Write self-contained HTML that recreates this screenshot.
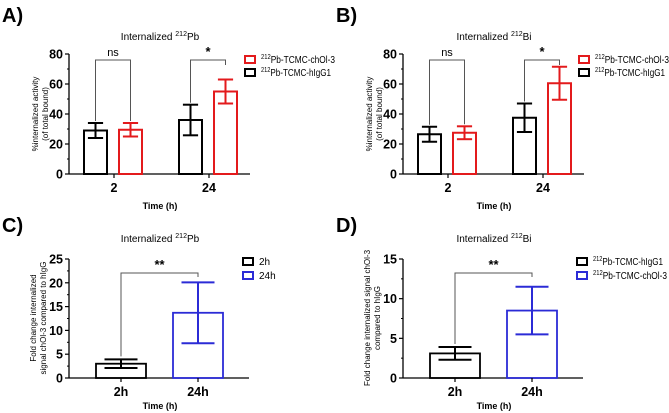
<!DOCTYPE html>
<html><head><meta charset="utf-8"><style>
body{margin:0;background:#fff;font-family:"Liberation Sans",sans-serif}
svg{display:block}
text{font-family:"Liberation Sans",sans-serif}
</style></head><body>
<svg id="c" width="669" height="413" viewBox="0 0 669 413"></svg>
<script>
// Panel A/B data (grouped bars: black = hIgG1, red = chOl-3)
const groupCats = ["2", "24"];
const aBlack = [29, 36], aBlackErr = [5, 10.2];
const aRed = [29.5, 55], aRedErr = [4.5, 8];
const bBlack = [26.5, 37.5], bBlackErr = [5, 9.5];
const bRed = [27.5, 60.5], bRedErr = [4.3, 11];
const abTicks = [0, 20, 40, 60, 80];
// Panel C/D data (single bars)
const foldCats = ["2h", "24h"];
const cVals = [3, 13.7], cErr = [0.9, 6.4];
const dVals = [3.1, 8.5], dErr = [0.8, 3];
const cTicks = [0, 5, 10, 15, 20, 25];
const dTicks = [0, 5, 10, 15];

const svg = document.getElementById('c');
const NS = 'http://www.w3.org/2000/svg';
function mk(tag, attrs, parent) {
  const e = document.createElementNS(NS, tag);
  for (const k in attrs) e.setAttribute(k, attrs[k]);
  (parent || svg).appendChild(e);
  return e;
}
function txt(x, y, s, size, anchor, weight, parent, name) {
  const t = mk('text', {x: x, y: y, 'font-size': size, 'text-anchor': anchor || 'middle', 'font-weight': weight || 'bold', fill: '#000'}, parent);
  t.innerHTML = s;
  
  
  return t;
}
function axes(g, ox, yTop, yBot, xEnd, ticks, maxV) {
  const y = v => yBot - (v / maxV) * (yBot - yTop);
  const ax = mk('line', {x1: ox, y1: yTop, x2: ox, y2: yBot, stroke: '#000', 'stroke-width': 1.3}, g);
  
  
  const xx = mk('line', {x1: ox, y1: yBot, x2: xEnd, y2: yBot, stroke: '#000', 'stroke-width': 1.3}, g);
  
  
  const step = ticks[1] - ticks[0];
  ticks.forEach((v, i) => {
    mk('line', {x1: ox - 4, y1: y(v), x2: ox, y2: y(v), stroke: '#000', 'stroke-width': 1.2}, g);
    if (i < ticks.length - 1) {
      const m = v + step / 2;
      mk('line', {x1: ox - 2, y1: y(m), x2: ox, y2: y(m), stroke: '#000', 'stroke-width': 1}, g);
    }
    txt(ox - 6, y(v) + 4.5, String(v), 12.5, 'end', 'bold', g, 'y-tick-label');
  });
  return y;
}
function bar(g, x0, w, v, e, y, color, name, sw) {
  const r = mk('rect', {x: x0, y: y(v), width: w, height: y(0) - y(v), fill: 'none', stroke: color, 'stroke-width': sw || 2}, g);
  
  
  const cx = x0 + w / 2, cw = w * 0.33;
  mk('line', {x1: cx, y1: y(v + e), x2: cx, y2: y(v - e), stroke: color, 'stroke-width': 2}, g);
  mk('line', {x1: cx - cw, y1: y(v + e), x2: cx + cw, y2: y(v + e), stroke: color, 'stroke-width': 2}, g);
  mk('line', {x1: cx - cw, y1: y(v - e), x2: cx + cw, y2: y(v - e), stroke: color, 'stroke-width': 2}, g);
}
function bracket(g, x1, x2, yb, y1, y2, label, size) {
  mk('path', {d: `M${x1},${y1} L${x1},${yb} L${x2},${yb} L${x2},${y2}`, fill: 'none', stroke: '#555', 'stroke-width': 1}, g);
  txt((x1 + x2) / 2, yb - 4, label, size || 11, 'middle', label === 'ns' ? 'normal' : 'bold', g, 'significance-label');
}
function legendEntry(g, x, y, color, label, len) {
  const r = mk('rect', {x: x, y: y - 7, width: 10, height: 7, fill: 'none', stroke: color, 'stroke-width': 2}, g);
  
  
  const t = txt(x + 16, y, label, 10, 'start', 'normal', g, 'legend-entry');
  if (len) { t.setAttribute('textLength', len); t.setAttribute('lengthAdjust', 'spacingAndGlyphs'); }
}
const SUP = s => '<tspan font-size="7" dy="-4">212</tspan><tspan dy="4">' + s + '</tspan>';
function panelAB(dx, letter, iso, blk, blkE, red, redE) {
  const g = mk('g', {transform: `translate(${dx},0)`});
  
  
  txt(2, 22, letter + ')', 20, 'start', 'bold', g, 'panel-letter');
  txt(160, 40, 'Internalized ' + SUP(iso), 10, 'middle', 'normal', g, 'chart-title');
  const y = axes(g, 69, 54, 174, 250, abTicks, 80);
  const centers = [114, 209];
  groupCats.forEach((c, i) => {
    bar(g, centers[i] - 30, 23, blk[i], blkE[i], y, '#000', 'bar-higg1-' + c);
    bar(g, centers[i] + 5, 23, red[i], redE[i], y, '#e31a1c', 'bar-chol3-' + c);
    mk('line', {x1: centers[i], y1: 174, x2: centers[i], y2: 178, stroke: '#000', 'stroke-width': 1.2}, g);
    txt(centers[i], 192, c, 12.5, 'middle', 'bold', g, 'x-tick-label');
  });
  const cb0 = centers[0] - 18.5, cr0 = centers[0] + 16.5, cb1 = centers[1] - 18.5, cr1 = centers[1] + 16.5;
  bracket(g, cb0, cr0, 60, y(blk[0] + blkE[0]) - 2, y(red[0] + redE[0]) - 2, 'ns');
  bracket(g, cb1, cr1, 60, y(blk[1] + blkE[1]) - 2, 65, '*', 13);
  legendEntry(g, 245, 63, '#e31a1c', SUP('Pb-TCMC-chOl-3'), 74);
  legendEntry(g, 245, 76, '#000', SUP('Pb-TCMC-hIgG1'), 70);
  const yl = mk('g', {transform: 'translate(38,114) rotate(-90)'}, g);
  txt(0, 0, '%internalized activity', 8, 'middle', 'normal', yl, 'y-axis-title');
  txt(0, 10, '(of total bound)', 8, 'middle', 'normal', yl, 'y-axis-title');
  txt(160, 209, 'Time (h)', 9, 'middle', 'bold', g, 'x-axis-title');
}
function panelCD(dx, letter, iso, vals, errs, ticks, maxV, leg, lens, ylab) {
  const g = mk('g', {transform: `translate(${dx},0)`});
  
  
  txt(2, 232, letter + ')', 20, 'start', 'bold', g, 'panel-letter');
  txt(160, 242, 'Internalized ' + SUP(iso), 10, 'middle', 'normal', g, 'chart-title');
  const y = axes(g, 69, 259, 378, 249, ticks, maxV);
  const centers = [121, 198];
  const cols = ['#000', '#2b2bd6'];
  foldCats.forEach((c, i) => {
    bar(g, centers[i] - 25, 50, vals[i], errs[i], y, cols[i], 'bar-' + c, 1.8);
    mk('line', {x1: centers[i], y1: 378, x2: centers[i], y2: 382, stroke: '#000', 'stroke-width': 1.2}, g);
    txt(centers[i], 396, c, 12.5, 'middle', 'bold', g, 'x-tick-label');
  });
  bracket(g, centers[0], centers[1], 273, y(vals[0] + errs[0]) - 3, 277, '**', 13);
  legendEntry(g, 243, 265, '#000', leg[0], lens[0]);
  legendEntry(g, 243, 279, '#2b2bd6', leg[1], lens[1]);
  const yl = mk('g', {transform: 'translate(36,318) rotate(-90)'}, g);
  txt(0, 0, ylab[0], 8, 'middle', 'normal', yl, 'y-axis-title');
  txt(0, 10, ylab[1], 8, 'middle', 'normal', yl, 'y-axis-title');
  txt(160, 409, 'Time (h)', 9, 'middle', 'bold', g, 'x-axis-title');
}
panelAB(0, 'A', 'Pb', aBlack, aBlackErr, aRed, aRedErr);
panelAB(334, 'B', 'Bi', bBlack, bBlackErr, bRed, bRedErr);
panelCD(0, 'C', 'Pb', cVals, cErr, cTicks, 25, ['2h', '24h'], [0, 0], ['Fold change internalized', 'signal chOl-3 compared to hIgG']);
panelCD(334, 'D', 'Bi', dVals, dErr, dTicks, 15,
  [SUP('Pb-TCMC-hIgG1'), SUP('Pb-TCMC-chOl-3')], [70, 74],
  ['Fold change internalized signal chOl-3', 'compared to hIgG']);
</script>
</body></html>
